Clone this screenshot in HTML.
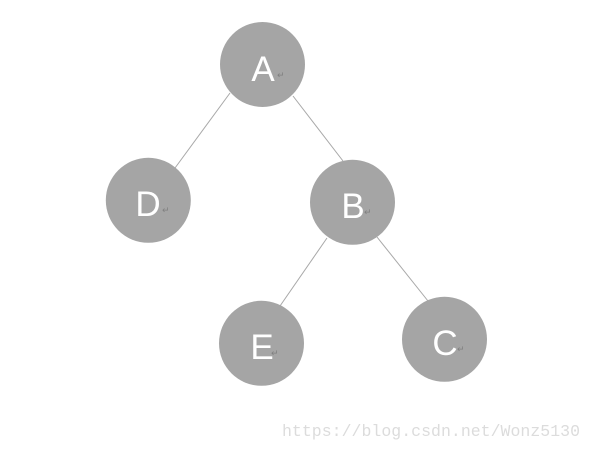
<!DOCTYPE html>
<html><head><style>html,body{margin:0;padding:0;background:#fff;width:593px;height:449px;overflow:hidden}</style></head>
<body>
<svg width="593" height="449" xmlns="http://www.w3.org/2000/svg">
<g stroke="#a8a8a8" stroke-width="1">
<line x1="230" y1="93" x2="175" y2="168"/>
<line x1="293" y1="96" x2="343" y2="161"/>
<line x1="327" y1="238" x2="280" y2="306"/>
<line x1="377" y1="237" x2="428" y2="301"/>
</g>
<g fill="#a5a5a5">
<circle cx="262.5" cy="64.5" r="42.5"/>
<circle cx="148.3" cy="200.3" r="42.5"/>
<circle cx="352.5" cy="202.3" r="42.5"/>
<circle cx="261.5" cy="343.3" r="42.5"/>
<circle cx="444.5" cy="339.3" r="42.5"/>
</g>
<g fill="#fff" font-family="Liberation Sans, DejaVu Sans, sans-serif" font-size="35" text-anchor="middle">
<text x="263" y="81">A</text>
<text x="148" y="216">D</text>
<text x="353" y="218">B</text>
<text x="262" y="359">E</text>
<text x="445" y="355">C</text>
</g>
<g fill="#808080" font-family="DejaVu Sans, sans-serif" font-size="9">
<text x="277" y="78">↵</text>
<text x="162" y="213">↵</text>
<text x="364" y="215">↵</text>
<text x="271" y="356">↵</text>
<text x="457" y="352">↵</text>
</g>
<text x="282" y="436" fill="#dcdcdc" font-family="Liberation Mono, monospace" font-size="16.5" textLength="298">https://blog.csdn.net/Wonz5130</text>
</svg>
</body></html>
